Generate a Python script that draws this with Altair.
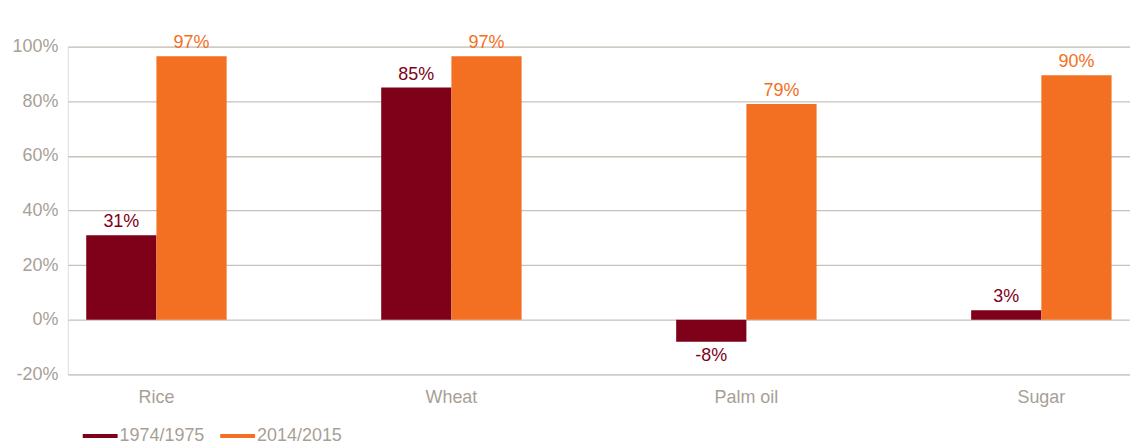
import altair as alt
import pandas as pd

categories = ["Rice", "Wheat", "Palm oil", "Sugar"]
series = ["1974/1975", "2014/2015"]
values_1974 = [0.31, 0.85, -0.08, 0.035]
values_2014 = [0.965, 0.965, 0.79, 0.895]
labels_1974 = ["31%", "85%", "-8%", "3%"]
labels_2014 = ["97%", "97%", "79%", "90%"]
y_ticks = [-0.2, 0.0, 0.2, 0.4, 0.6, 0.8, 1.0]
colors = ["#7f0019", "#f36f21"]

rows = []
for c, v1, v2, l1, l2 in zip(categories, values_1974, values_2014, labels_1974, labels_2014):
    rows.append({"category": c, "series": series[0], "value": v1, "label": l1})
    rows.append({"category": c, "series": series[1], "value": v2, "label": l2})
df = pd.DataFrame(rows)

FONT = "Liberation Sans"
GREY = "#a89f96"
FS = 18
LINE_SYMBOL = "M-1,-0.12H1V0.12H-1Z"

x = alt.X("category:N", sort=categories, title=None,
          scale=alt.Scale(paddingInner=0.524, paddingOuter=0.0625),
          axis=alt.Axis(labelAngle=0, domain=False, ticks=False, tickSize=0,
                        labelFontSize=FS, labelColor=GREY, labelFont=FONT,
                        labelPadding=14, grid=False))
xoff = alt.XOffset("series:N", sort=series, scale=alt.Scale(paddingInner=0, paddingOuter=0))
yscale = alt.Scale(domain=[-0.2, 1.0], nice=False)

base = alt.Chart(df)

bars = base.mark_bar().encode(
    x=x, xOffset=xoff,
    y=alt.Y("value:Q", scale=yscale, title=None,
            axis=alt.Axis(values=y_ticks, domain=False, ticks=False, tickSize=0,
                          labelExpr="(datum.value < 0 ? '-' : '') + format(abs(datum.value), '.0%')",
                          labelFontSize=FS, labelColor=GREY, labelFont=FONT, labelPadding=10,
                          gridColor="#c9c1b9", gridWidth=1.3, gridOpacity=1)),
    color=alt.Color("series:N", sort=series, title=None,
                    scale=alt.Scale(domain=series, range=colors),
                    legend=alt.Legend(orient="none", legendX=15, legendY=373, direction="horizontal",
                                      symbolType=LINE_SYMBOL, symbolSize=1225, symbolStrokeWidth=0,
                                      labelFontSize=FS, labelColor=GREY, labelFont=FONT,
                                      labelOffset=2, columnPadding=15)),
)

txt_pos = base.transform_filter("datum.value >= 0").mark_text(
    baseline="bottom", dy=-4, fontSize=FS, font=FONT
).encode(x=x, xOffset=xoff, y=alt.Y("value:Q", scale=yscale), text="label:N",
         color=alt.Color("series:N", sort=series, scale=alt.Scale(domain=series, range=colors), legend=None))

txt_neg = base.transform_filter("datum.value < 0").mark_text(
    baseline="top", dy=5, fontSize=FS, font=FONT
).encode(x=x, xOffset=xoff, y=alt.Y("value:Q", scale=yscale), text="label:N",
         color=alt.Color("series:N", sort=series, scale=alt.Scale(domain=series, range=colors), legend=None))

chart = alt.layer(bars, txt_pos, txt_neg).properties(
    width=1066, height=329,
    padding={"left": 3, "top": 25, "right": 0, "bottom": 0},
).configure_view(stroke=None).configure(background="white")

chart.save("out.html", embed_options={"renderer": "svg", "actions": False})
